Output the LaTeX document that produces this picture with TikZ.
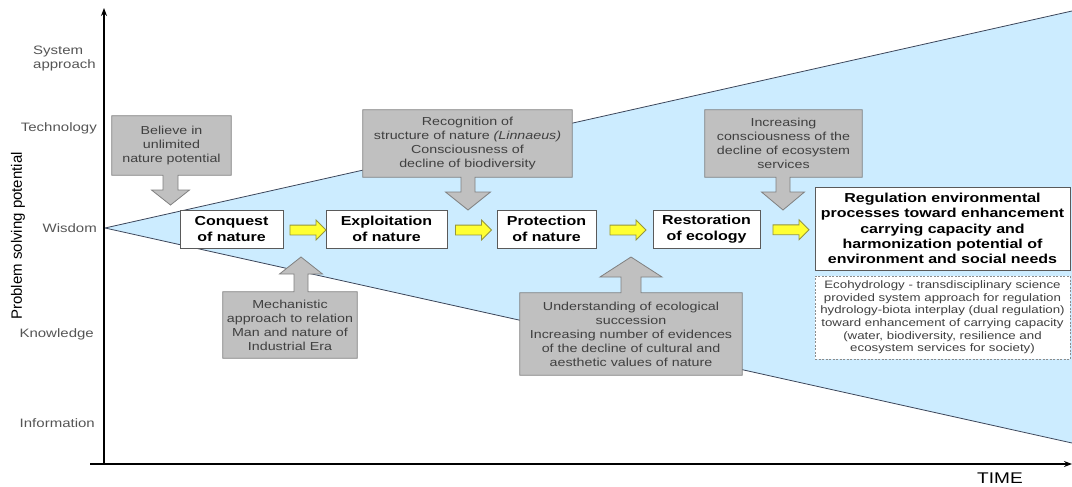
\documentclass[tikz,border=0pt]{standalone}
\usepackage{fontspec}
\setmainfont{Liberation Sans}[FakeStretch=1.23]
\newfontfamily\rotfont{Liberation Sans}
\usetikzlibrary{calc,shapes.arrows,backgrounds,arrows.meta}
\definecolor{skyfill}{RGB}{204,236,255}
\definecolor{edgeblue}{RGB}{60,70,90}
\definecolor{callfill}{RGB}{192,192,192}
\definecolor{callline}{RGB}{128,128,128}
\definecolor{calltext}{RGB}{64,64,64}
\definecolor{axtext}{RGB}{85,85,85}
\definecolor{boxline}{RGB}{90,90,90}
\definecolor{yel}{RGB}{255,255,51}
\definecolor{yelline}{RGB}{150,150,60}
\definecolor{dashline}{RGB}{140,140,140}
\newcommand\mycalldown[5]{%
  \path[callshape] (#1.south west) -- (#1.north west) -- (#1.north east) -- (#1.south east)
   -- ($(#2|-#1.south)+(#3,0)$) -- ($(#2)+(#3,-#5)$) -- ($(#2)+(#4,-#5)$) -- (#2)
   -- ($(#2)+(-#4,-#5)$) -- ($(#2)+(-#3,-#5)$) -- ($(#2|-#1.south)+(-#3,0)$) -- cycle;}
\newcommand\mycallup[5]{%
  \path[callshape] (#1.north west) -- (#1.south west) -- (#1.south east) -- (#1.north east)
   -- ($(#2|-#1.north)+(#3,0)$) -- ($(#2)+(#3,#5)$) -- ($(#2)+(#4,#5)$) -- (#2)
   -- ($(#2)+(-#4,#5)$) -- ($(#2)+(-#3,#5)$) -- ($(#2|-#1.north)+(-#3,0)$) -- cycle;}
\tikzset{
  stagebox/.style={draw=boxline, fill=white, line width=0.8pt, align=center, inner sep=0pt,
    font=\fontsize{13}{16.5}\selectfont\bfseries},
  calltxt/.style={align=center, inner sep=0pt, text=calltext, font=\fontsize{11.6}{14}\selectfont},
  callshape/.style={fill=callfill, draw=callline, line width=0.8pt},
  axlabel/.style={text=axtext, inner sep=0pt, font=\fontsize{12.2}{14}\selectfont},
  yarrow/.style={single arrow, fill=yel, draw=yelline, line width=0.8pt, minimum height=36pt,
    inner sep=4.5pt, single arrow head extend=5pt},
  ecobox/.style={draw=dashline, dash pattern=on 2pt off 1.5pt, fill=white, line width=0.8pt,
    align=center, inner sep=0pt, text=calltext, font=\fontsize{10.8}{12.6}\selectfont},
  axisline/.style={line width=1.4pt, -{Stealth[length=8pt,width=6pt]}},
}
\begin{document}
\begin{tikzpicture}[x=1pt,y=-1pt]
\useasboundingbox (0,0) rectangle (1072,487);
\coordinate (apex) at (105,228);
\coordinate (ue) at (1072,11);
\coordinate (le) at (1072,443);
\begin{scope}[on background layer]
  \fill[skyfill] (apex) -- (ue) -- (le) -- cycle;
  \draw[edgeblue, line width=0.8pt] (ue) -- (apex) -- (le);
\end{scope}

% axes
\coordinate (orig) at (104,464);
\coordinate (ytip) at (104,8);
\coordinate (xstart) at (90,464);
\coordinate (xtip) at (1072,464);
\draw[axisline] (orig) -- (ytip);
\draw[axisline] (xstart) -- (xtip);

% axis labels
\node[axlabel, align=left, anchor=west] (lsys) at (33,59) {System\\approach};
\node[axlabel, anchor=east] (ltech) at (97,128) {Technology};
\node[axlabel, anchor=east] (lwis) at (97,228) {Wisdom};
\node[axlabel, anchor=east] (lknow) at (94,334) {Knowledge};
\node[axlabel, anchor=east] (linfo) at (95,423) {Information};
\node[rotate=90, font=\rotfont\fontsize{15}{17}\selectfont, inner sep=0pt] (lpsp) at (18,236) {Problem solving potential};
\node[font=\fontsize{15.5}{17}\selectfont, inner sep=0pt] (ltime) at (1000,478) {TIME};

% stages
\node[stagebox, minimum width=103pt, minimum height=38pt] (s1) at (231.5,229) {Conquest\\of nature};
\node[stagebox, minimum width=121pt, minimum height=38pt] (s2) at (386.5,229) {Exploitation\\of nature};
\node[stagebox, minimum width=99pt, minimum height=38pt] (s3) at (546.5,229) {Protection\\of nature};
\node[stagebox, minimum width=107pt, minimum height=38pt] (s4) at (706.5,229) {Restoration\\of ecology};
\node[stagebox, minimum width=255pt, minimum height=83pt, font=\fontsize{13}{15.3}\selectfont\bfseries] (s5) at (942.5,228.5)
  {Regulation environmental\\processes toward enhancement\\carrying capacity and\\harmonization potential of\\environment and social needs};
\node[ecobox, minimum width=255pt, minimum height=83pt] (eco) at (942.5,317.5)
  {Ecohydrology - transdisciplinary science\\provided system approach for regulation\\hydrology-biota interplay (dual regulation)\\toward enhancement of carrying capacity\\(water, biodiversity, resilience and\\ecosystem services for society)};

% yellow arrows
\node[yarrow] (y1) at ($(s1.east)!0.5!(s2.west)+(1,1)$) {};
\node[yarrow] (y2) at ($(s2.east)!0.5!(s3.west)+(-1,1)$) {};
\node[yarrow] (y3) at ($(s3.east)!0.5!(s4.west)+(1,1)$) {};
\node[yarrow] (y4) at ($(s4.east)!0.5!(s5.west)+(1,1)$) {};

% callouts
\node[calltxt, minimum width=119pt, minimum height=59pt] (g1) at (171.5,145.5) {Believe in\\unlimited\\nature potential};
\coordinate (t1) at (170.5,205);
\node[calltxt, minimum width=209pt, minimum height=67pt] (g2) at (467.5,143.5) {Recognition of\\structure of nature \textit{(Linnaeus)}\\Consciousness of\\decline of biodiversity};
\coordinate (t2) at (468,210);
\node[calltxt, minimum width=157pt, minimum height=67pt] (g3) at (783.5,143.5) {Increasing\\consciousness of the\\decline of ecosystem\\services};
\coordinate (t3) at (783,210);
\node[calltxt, minimum width=134pt, minimum height=66pt] (g4) at (290,325) {Mechanistic\\approach to relation\\Man and nature of\\Industrial Era};
\coordinate (t4) at (301,257);
\node[calltxt, minimum width=222pt, minimum height=82pt] (g5) at (631,334) {Understanding of ecological\\succession\\Increasing number of evidences\\of the decline of cultural and\\aesthetic values of nature};
\coordinate (t5) at (631,257);

\begin{scope}[on background layer]
  \mycalldown{g1}{t1}{7.5}{19}{15}
  \mycalldown{g2}{t2}{7}{22.5}{18}
  \mycalldown{g3}{t3}{7}{21.5}{18}
  \mycallup{g4}{t4}{7}{21.5}{17}
  \mycallup{g5}{t5}{10}{31}{20}
\end{scope}
\end{tikzpicture}
\end{document}
